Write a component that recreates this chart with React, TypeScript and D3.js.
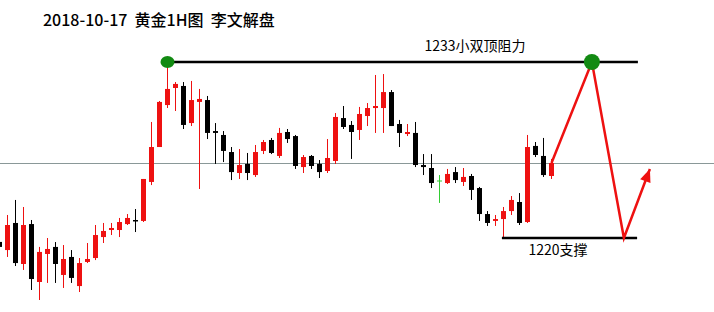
import React from "react";
import * as d3 from "d3";

// Hourly gold candles (USD/oz), oldest first
const opens = [
  1219.71, 1219.11, 1221.11, 1218.08, 1221.03, 1216.75, 1218.82, 1219.34, 1217.27, 1218.6,
  1216.45, 1218.23, 1218.52, 1220.07, 1220.59, 1220.59, 1221.03, 1221.33, 1221.26, 1224.14,
  1226.72, 1229.82, 1231.08, 1231.23, 1228.49, 1230.05, 1230.19, 1227.9, 1227.61, 1226.35,
  1224.8, 1225.47, 1224.65, 1226.43, 1227.24, 1226.06, 1227.83, 1227.53, 1225.24, 1226.06,
  1225.47, 1224.95, 1225.69, 1228.86, 1228.35, 1227.98, 1229.01, 1229.6, 1229.6, 1230.78,
  1228.42, 1227.68, 1227.76, 1225.39, 1225.17, 1224.21, 1224.06, 1224.87, 1224.14, 1224.58,
  1223.69, 1221.77, 1221.26, 1221.4, 1221.99, 1222.66, 1221.18, 1226.8, 1226.06, 1224.58,
];
const closes = [
  1219.34, 1220.96, 1218.15, 1220.96, 1216.97, 1218.97, 1219.19, 1218.08, 1218.45, 1217.05,
  1218.15, 1218.45, 1220.22, 1220.52, 1220.74, 1221.18, 1221.48, 1221.26, 1224.36, 1226.72,
  1230.05, 1231.01, 1231.38, 1228.35, 1230.19, 1230.27, 1227.76, 1227.76, 1226.43, 1224.87,
  1225.39, 1224.8, 1226.35, 1227.09, 1226.28, 1227.76, 1227.31, 1225.32, 1225.98, 1225.32,
  1224.87, 1225.91, 1228.94, 1228.2, 1227.83, 1229.16, 1229.6, 1229.75, 1230.78, 1228.27,
  1227.76, 1227.83, 1225.39, 1225.24, 1224.06, 1224.21, 1224.73, 1224.28, 1224.51, 1223.55,
  1221.77, 1221.11, 1221.4, 1221.99, 1222.81, 1221.11, 1226.72, 1226.13, 1224.65, 1225.54,
];
const highs = [
  1220.0, 1221.7, 1222.81, 1222.29, 1221.33, 1219.34, 1220.0, 1219.7, 1219.48, 1219.11,
  1218.52, 1219.63, 1220.96, 1221.11, 1221.11, 1221.48, 1221.77, 1222.14, 1224.36, 1228.57,
  1230.12, 1232.9, 1231.52, 1231.52, 1231.6, 1231.01, 1230.49, 1228.49, 1227.9, 1226.72,
  1226.57, 1226.28, 1226.87, 1227.24, 1227.39, 1228.13, 1228.05, 1227.61, 1226.13, 1226.13,
  1225.76, 1227.31, 1229.23, 1229.75, 1228.64, 1229.68, 1229.97, 1232.04, 1232.11, 1230.93,
  1228.72, 1228.42, 1228.57, 1226.2, 1226.2, 1224.65, 1225.1, 1225.24, 1225.17, 1224.73,
  1223.77, 1221.99, 1221.7, 1222.29, 1223.1, 1223.32, 1227.61, 1227.09, 1227.39, 1225.84,
];
const lows = [
  1218.97, 1218.6, 1217.93, 1217.64, 1216.16, 1215.42, 1216.68, 1216.68, 1216.31, 1216.68,
  1216.01, 1218.15, 1218.37, 1219.63, 1220.22, 1220.07, 1220.96, 1220.44, 1221.18, 1223.91,
  1226.72, 1229.6, 1229.38, 1228.05, 1228.27, 1223.62, 1227.31, 1225.47, 1225.61, 1224.28,
  1224.36, 1224.28, 1224.51, 1226.2, 1226.2, 1225.91, 1227.02, 1225.1, 1224.8, 1225.1,
  1224.43, 1224.8, 1225.47, 1228.05, 1225.84, 1227.24, 1228.27, 1227.76, 1227.76, 1228.27,
  1226.72, 1227.53, 1225.24, 1224.65, 1223.69, 1222.59, 1223.99, 1224.06, 1223.84, 1222.81,
  1221.26, 1220.89, 1220.89, 1220.0, 1221.7, 1220.96, 1221.11, 1225.98, 1224.51, 1224.36,
];

// Key levels and the projected path (bar index, price)
const resistance = 1233;
const support = 1220;
const resistanceSpan = [21, 79.8];
const supportSpan = [62.8, 79.7];
const topTouches = [21, 74.05];
const pathIndex = [69, 74.05, 78.05, 81.3];
const pathPrice = [1225.54, 1233, 1220, 1225.1];
const lastPrice = closes[closes.length - 1];

const title = "2018-10-17  黄金1H图  李文解盘";
const resistanceLabel = "1233小双顶阻力";
const supportLabel = "1220支撑";

const W = 714;
const H = 312;

export default function App() {
  const x = d3.scaleLinear().domain([0, 69]).range([-0.5, 551.5]);
  const y = d3.scaleLinear().domain([support, resistance]).range([238, 62]);

  const up = "#ee1111";
  const down = "#000000";
  const flat = "#33cc33";

  const path = d3.line<number>()
    .x((_, i) => x(pathIndex[i]))
    .y((_, i) => y(pathPrice[i]))(pathIndex);

  // arrowhead at the end of the projected path
  const n = pathIndex.length;
  const tipX = x(pathIndex[n - 1]);
  const tipY = y(pathPrice[n - 1]);
  const prevX = x(pathIndex[n - 2]);
  const prevY = y(pathPrice[n - 2]);
  const ang = Math.atan2(tipY - prevY, tipX - prevX);
  const headLen = 13;
  const headHalf = 5.5;
  const bx = tipX - headLen * Math.cos(ang);
  const by = tipY - headLen * Math.sin(ang);
  const head = [
    [tipX, tipY],
    [bx + headHalf * Math.sin(ang), by - headHalf * Math.cos(ang)],
    [bx - headHalf * Math.sin(ang), by + headHalf * Math.cos(ang)],
  ];

  const font = "'Noto Sans CJK SC', 'Noto Sans', sans-serif";

  return (
    <svg
      width={W}
      height={H}
      style={{ position: "absolute", left: 0, top: 0, background: "#fff" }}
    >
      <rect width={W} height={H} fill="#fff" />
      {/* last price line */}
      <line
        x1={0}
        x2={W}
        y1={Math.round(y(lastPrice)) + 0.5}
        y2={Math.round(y(lastPrice)) + 0.5}
        stroke="#8a9898"
        strokeWidth={1}
      />
      {/* candles */}
      {opens.map((o, i) => {
        const c = closes[i];
        const cx = x(i);
        const col = c > o ? up : c < o ? down : flat;
        const top = y(Math.max(o, c));
        const bot = y(Math.min(o, c));
        const bodyH = Math.max(1.5, bot - top);
        return (
          <g key={i}>
            <line x1={cx} x2={cx} y1={y(highs[i])} y2={y(lows[i])} stroke={col} strokeWidth={1} />
            {c === o ? (
              <line x1={cx - 2.5} x2={cx + 2.5} y1={top} y2={top} stroke={col} strokeWidth={1} />
            ) : (
              <rect x={cx - 2.5} y={top} width={5} height={bodyH} fill={col} />
            )}
          </g>
        );
      })}
      {/* resistance and support levels */}
      <line
        x1={x(resistanceSpan[0])}
        x2={x(resistanceSpan[1])}
        y1={y(resistance)}
        y2={y(resistance)}
        stroke="#000"
        strokeWidth={2.5}
      />
      <line
        x1={x(supportSpan[0])}
        x2={x(supportSpan[1])}
        y1={y(support)}
        y2={y(support)}
        stroke="#000"
        strokeWidth={2.5}
      />
      {/* projected move */}
      <path d={path ?? ""} fill="none" stroke={up} strokeWidth={2.5} strokeLinejoin="miter" />
      <polygon points={head.map((p) => p.join(",")).join(" ")} fill={up} />
      {/* double-top markers */}
      <ellipse cx={x(topTouches[0])} cy={y(resistance)} rx={7} ry={6} fill="#128a12" />
      <circle cx={x(topTouches[1])} cy={y(resistance)} r={8} fill="#128a12" />
      {/* labels */}
      <text x={43} y={26} fontFamily={font} fontSize={16} fontWeight={500} fill="#000" style={{ whiteSpace: "pre" }}>
        {title}
      </text>
      <text x={475} y={51} textAnchor="middle" fontFamily={font} fontSize={14} fill="#000">
        {resistanceLabel}
      </text>
      <text x={558} y={255} textAnchor="middle" fontFamily={font} fontSize={14} fill="#000">
        {supportLabel}
      </text>
    </svg>
  );
}
